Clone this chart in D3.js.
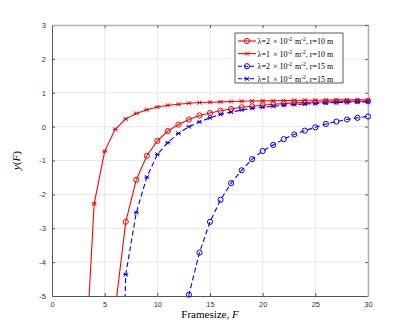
<!DOCTYPE html>
<html>
<head>
<meta charset="utf-8">
<script src="https://cdn.jsdelivr.net/npm/d3@7"></script>
<style>
  body { margin: 0; background: #fff; }
  .tick text { font-family: "Liberation Sans", Arial, sans-serif; font-size: 7.5px; fill: #333; }
</style>
</head>
<body>
<div id="chart"></div>
<script>
// framesize values (x)
var frameSizes = [3,4,5,6,7,8,9,10,11,12,13,14,15,16,17,18,19,20,21,22,23,24,25,26,27,28,29,30];

// y(F) for each case, null where the series has no point
var lam2r10 = [null,null,null,-5.4,-2.81,-1.57,-0.86,-0.42,-0.13,0.06,0.21,0.33,0.40,0.47,0.52,0.57,0.60,0.63,0.66,0.68,0.70,0.71,0.72,0.73,0.74,0.74,0.75,0.75];
var lam1r10 = [-8.0,-2.28,-0.73,-0.08,0.23,0.39,0.50,0.58,0.63,0.66,0.69,0.71,0.72,0.73,0.74,0.75,0.755,0.76,0.765,0.77,0.775,0.78,0.78,0.785,0.79,0.79,0.79,0.795];
var lam2r15 = [null,null,null,null,null,null,null,null,null,-9,-4.96,-3.72,-2.81,-2.16,-1.67,-1.29,-0.96,-0.72,-0.54,-0.37,-0.23,-0.12,-0.02,0.08,0.15,0.21,0.26,0.30];
var lam1r15 = [null,null,null,-15,-4.37,-2.54,-1.49,-0.82,-0.47,-0.2,0.0,0.14,0.26,0.36,0.43,0.49,0.54,0.57,0.60,0.63,0.65,0.67,0.68,0.70,0.71,0.72,0.73,0.73];

var xTicks = [0,5,10,15,20,25,30];
var yTicks = [-5,-4,-3,-2,-1,0,1,2,3];

var series = [
  {lam: "2", r: "10", values: lam2r10, color: "#ff0000", dash: null, marker: "o"},
  {lam: "1", r: "10", values: lam1r10, color: "#ff0000", dash: null, marker: "x"},
  {lam: "2", r: "15", values: lam2r15, color: "#0000ff", dash: "5,3", marker: "o"},
  {lam: "1", r: "15", values: lam1r15, color: "#0000ff", dash: "5,3", marker: "x"}
];

var width = 407, height = 333;
var margin = {top: 25, right: 39, bottom: 37, left: 52};
var plotW = width - margin.left - margin.right;
var plotH = height - margin.top - margin.bottom;

var svg = d3.select("#chart").append("svg")
    .attr("width", width)
    .attr("height", height);

var g = svg.append("g")
    .attr("transform", `translate(${margin.left}, ${margin.top})`);

var xScale = d3.scaleLinear().domain([0, 30]).range([0, plotW]);
var yScale = d3.scaleLinear().domain([-5, 3]).range([plotH, 0]);

// grid
g.append("g").selectAll("line")
    .data(xTicks.slice(1, -1))
    .enter().append("line")
    .attr("x1", d => xScale(d)).attr("x2", d => xScale(d))
    .attr("y1", 0).attr("y2", plotH)
    .attr("stroke", "#e8e8e8");
g.append("g").selectAll("line")
    .data(yTicks.slice(1, -1))
    .enter().append("line")
    .attr("y1", d => yScale(d)).attr("y2", d => yScale(d))
    .attr("x1", 0).attr("x2", plotW)
    .attr("stroke", "#e8e8e8");

// axes, ticks inward (plain hyphen for negatives like matlab)
var fmt = d => String(d);
var xAxis = d3.axisBottom(xScale).tickValues(xTicks).tickFormat(fmt).tickSizeInner(-3).tickSizeOuter(0).tickPadding(6);
var yAxis = d3.axisLeft(yScale).tickValues(yTicks).tickFormat(fmt).tickSizeInner(-3).tickSizeOuter(0).tickPadding(6);

var gx = g.append("g")
    .attr("transform", `translate(0, ${plotH})`)
    .call(xAxis);
var gy = g.append("g").call(yAxis);
[gx, gy].forEach(a => {
  a.select(".domain").attr("stroke", "#555");
  a.selectAll(".tick line").attr("stroke", "#555");
});

// top and right box edges with their own ticks
g.append("g").call(d3.axisTop(xScale).tickValues(xTicks).tickSizeInner(-3).tickSizeOuter(0).tickFormat(""))
    .call(a => a.select(".domain").attr("stroke", "#b4b4b4").attr("stroke-width", 1.6))
    .call(a => a.selectAll(".tick line").attr("stroke", "#666"));
g.append("g").attr("transform", `translate(${plotW}, 0)`)
    .call(d3.axisRight(yScale).tickValues(yTicks).tickSizeInner(-3).tickSizeOuter(0).tickFormat(""))
    .call(a => a.select(".domain").attr("stroke", "#b4b4b4").attr("stroke-width", 1.6))
    .call(a => a.selectAll(".tick line").attr("stroke", "#666"));

// clip lines to the plot area
svg.append("defs").append("clipPath").attr("id", "plotclip")
    .append("rect").attr("width", plotW).attr("height", plotH);

var line = d3.line()
    .defined(d => d.y != null)
    .x(d => xScale(d.x))
    .y(d => yScale(d.y));

function drawMarker(sel, type, color) {
  if (type == "o") {
    sel.append("circle").attr("r", 2.6)
      .attr("fill", "none").attr("stroke", color).attr("stroke-width", 1);
  } else {
    sel.append("path").attr("d", "M-2,-2L2,2M-2,2L2,-2M-2.4,0L2.4,0")
      .attr("fill", "none").attr("stroke", color).attr("stroke-width", 1);
  }
}

series.forEach(s => {
  var pts = frameSizes.map((f, i) => ({x: f, y: s.values[i]}));
  g.append("path")
    .datum(pts)
    .attr("clip-path", "url(#plotclip)")
    .attr("fill", "none")
    .attr("stroke", s.color)
    .attr("stroke-width", 1.1)
    .attr("stroke-dasharray", s.dash)
    .attr("d", line);
  var inside = pts.filter(d => d.y != null && d.y >= -5 && d.y <= 3);
  g.selectAll(null)
    .data(inside)
    .enter().append("g")
    .attr("transform", d => `translate(${xScale(d.x)}, ${yScale(d.y)})`)
    .each(function() { drawMarker(d3.select(this), s.marker, s.color); });
});

// axis labels
svg.append("text")
    .attr("x", margin.left + plotW / 2)
    .attr("y", 318)
    .attr("text-anchor", "middle")
    .style("font-family", "Liberation Serif, Times New Roman, serif")
    .style("font-size", "11px")
    .html('Framesize, <tspan font-style="italic">F</tspan>');

svg.append("text")
    .attr("transform", `translate(20, ${margin.top + plotH / 2}) rotate(-90)`)
    .attr("text-anchor", "middle")
    .style("font-family", "Liberation Serif, Times New Roman, serif")
    .style("font-size", "11px")
    .html('<tspan font-style="italic">y</tspan>(<tspan font-style="italic">F</tspan>)');

// legend
var legend = svg.append("g").attr("transform", "translate(235, 33)");
legend.append("rect")
    .attr("width", 108).attr("height", 50)
    .attr("fill", "#fff").attr("stroke", "#333").attr("stroke-width", 0.8);

series.forEach((s, i) => {
  var row = legend.append("g").attr("transform", `translate(0, ${8 + i * 12.6})`);
  row.append("line")
    .attr("x1", 3).attr("x2", 21).attr("y1", 0).attr("y2", 0)
    .attr("stroke", s.color).attr("stroke-width", 1.1)
    .attr("stroke-dasharray", s.dash ? "4,2" : null);
  var m = row.append("g").attr("transform", "translate(12, 0)");
  drawMarker(m, s.marker, s.color);
  row.append("text")
    .attr("x", 22.5).attr("y", 3)
    .style("font-family", "Liberation Serif, Times New Roman, serif")
    .style("font-size", "8px")
    .html(`λ=${s.lam} <tspan dx="1">×</tspan><tspan dx="2">10</tspan><tspan dy="-3" font-size="5.5px">-2</tspan><tspan dy="3" dx="1"> m</tspan><tspan dy="-3" font-size="5.5px">-2</tspan><tspan dy="3">, r=${s.r} m</tspan>`);
});
</script>
</body>
</html>
